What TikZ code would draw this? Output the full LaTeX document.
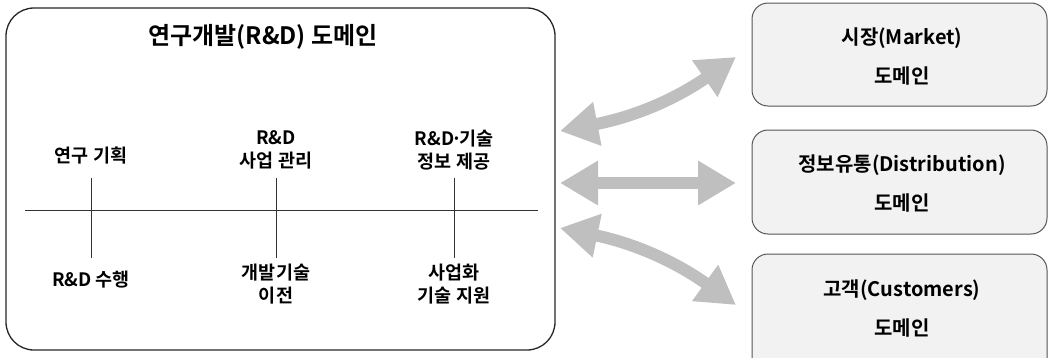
\documentclass[tikz,border=0pt]{standalone}
\usepackage{fontspec}
\setmainfont{Noto Sans CJK KR}[BoldFont={* Bold}]
\usetikzlibrary{arrows.meta}
\definecolor{arrgray}{HTML}{BFBFBF}
\definecolor{boxfill}{HTML}{F2F2F2}
\definecolor{boxline}{HTML}{555555}
\tikzset{
  bigbox/.style={draw=black!85, line width=1.3pt, rounded corners=28pt},
  domainbox/.style={draw=boxline, fill=boxfill, line width=1pt, rounded corners=16pt},
  lbl/.style={font=\fontsize{18.5}{23}\selectfont\bfseries, align=center, inner sep=0pt},
  dlbl/.style={font=\fontsize{20}{24}\selectfont\bfseries, align=center, inner sep=0pt},
  ttl/.style={font=\fontsize{24}{28}\selectfont\bfseries, inner sep=0pt},
  axis/.style={line width=0.8pt, black!80},
  bigarrow/.style={line width=12pt, arrgray, {Triangle[width=42pt,length=38pt]}-{Triangle[width=42pt,length=38pt]}}
}
\begin{document}
\begin{tikzpicture}[x=1pt,y=-1pt]
\useasboundingbox (0,0) rectangle (1048,357);
\begin{scope}
\clip (0,0) rectangle (1048,357);
% left big box
\draw[bigbox] (6,8) rectangle (555,350);
\node[ttl] (title) at (263,37) {연구개발(R\&D) 도메인};
% axis
\coordinate (hl) at (25,210);
\coordinate (hr) at (538,210);
\draw[axis] (hl) -- (hr);
\coordinate (a1) at (91,178); \coordinate (b1) at (91,258);
\coordinate (a2) at (276,178); \coordinate (b2) at (276,258);
\coordinate (a3) at (454,178); \coordinate (b3) at (454,258);
\draw[axis] (a1) -- (b1);
\draw[axis] (a2) -- (b2);
\draw[axis] (a3) -- (b3);
\node[lbl] (t1) at (91,156) {연구 기획};
\node[lbl] (t2) at (276,150) {R\&D\\사업 관리};
\node[lbl] (t3) at (454,150) {R\&D\kern-3pt·\kern-3pt기술\\정보 제공};
\node[lbl] (u1) at (91,280) {R\&D 수행};
\node[lbl] (u2) at (276,284) {개발기술\\이전};
\node[lbl] (u3) at (454,284) {사업화\\기술 지원};
% right boxes
\draw[domainbox] (752,3) rectangle (1047,106);
\draw[domainbox] (752,130) rectangle (1047,234);
\draw[domainbox] (752,254) rectangle (1047,380);
\node[dlbl] (m1) at (902,38) {시장(Market)};
\node[dlbl] (m2) at (902,76) {도메인};
\node[dlbl] (d1) at (902,165) {정보유통(Distribution)};
\node[dlbl] (d2) at (902,203) {도메인};
\node[dlbl] (c1) at (902,290) {고객(Customers)};
\node[dlbl] (c2) at (902,328) {도메인};
% arrows
\coordinate (l1) at (560,131); \coordinate (r1) at (736,57);
\coordinate (l2) at (560,183); \coordinate (r2) at (736,183);
\coordinate (l3) at (560,228); \coordinate (r3) at (736,305);
\draw[bigarrow] (l1) to[bend right=12] (r1);
\draw[bigarrow] (l2) -- (r2);
\draw[bigarrow] (l3) to[bend left=12] (r3);
\end{scope}
\end{tikzpicture}
\end{document}
